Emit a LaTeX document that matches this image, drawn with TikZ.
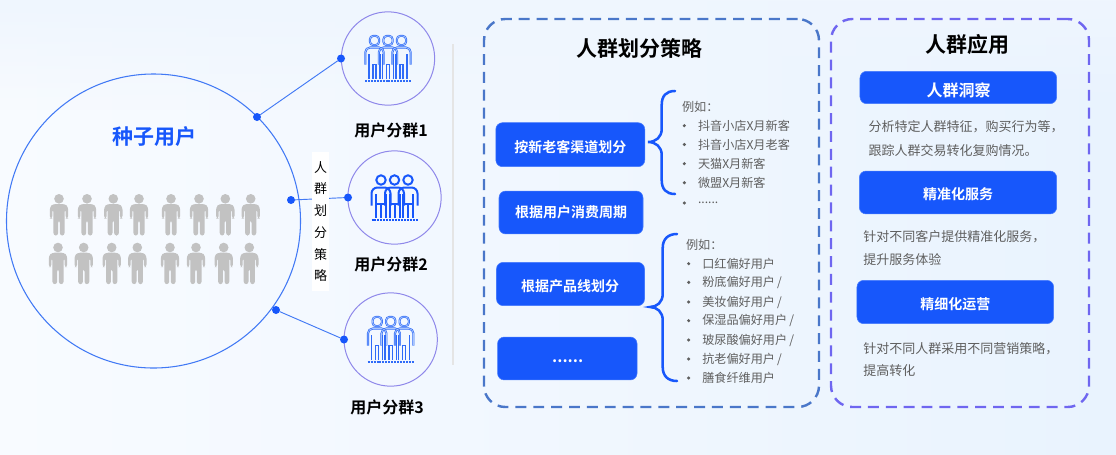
\documentclass[tikz,border=0pt]{standalone}
\usepackage{fontspec}
\usetikzlibrary{fadings}
\setmainfont{Noto Sans CJK SC}[BoldFont={Noto Sans CJK SC Bold}]
\definecolor{bgl}{HTML}{F8FBFF}
\definecolor{bgr}{HTML}{E9F3FE}
\definecolor{bgtop}{HTML}{EFF6FE}
\definecolor{brand}{HTML}{1757FB}
\definecolor{ring}{HTML}{4179F5}
\definecolor{ringb}{HTML}{8F88EA}
\definecolor{dashA}{HTML}{4A77C9}
\definecolor{dashB}{HTML}{6F66F0}
\definecolor{manc}{HTML}{C2C2C2}
\definecolor{txt}{HTML}{5F5F5F}
\definecolor{iconc}{HTML}{2F6BF8}
\definecolor{iconl}{HTML}{A9C6FC}
\newcommand{\fsz}[1]{\fontsize{#1}{#1}\selectfont}
\newcommand{\sixdots}{......}
\newcommand{\slmark}{\,/}
\tikzset{
  every node/.style={inner sep=0pt,outer sep=0pt},
  bigring/.style={circle,draw=ring,line width=0.8pt,minimum size=220.5pt},
  smallring/.style={circle,draw=ringb,line width=0.75pt,minimum size=70pt},
  jdot/.style={circle,fill=brand,minimum size=6pt},
  link/.style={draw=ring,line width=0.7pt},
  panelA/.style={draw=dashA,line width=1.8pt,rounded corners=16pt,dash pattern=on 8.2pt off 5.2pt},
  panelB/.style={draw=dashB,line width=1.8pt,rounded corners=16pt,dash pattern=on 8.2pt off 5.2pt},
  bluebox/.style={fill=brand,draw=brand!80!white,line width=0.4pt,rounded corners=5pt},
  boxlabel/.style={text=white,font=\bfseries\fsz{10.5}},
  title/.style={font=\bfseries\fsz{15.75},text=black},
  grouplabel/.style={font=\bfseries\fsz{12},text=black},
  desc/.style={anchor=west,font=\fsz{9.75},text=txt},
  listitem/.style={anchor=west,font=\fsz{9.1},text=txt},
  bulletdot/.style={circle,fill=txt,minimum size=2.6pt},
  bracepath/.style={draw=brand,line width=1.9pt,line cap=round},
  grayman/.pic={
    \fill[manc] (0,4.8) circle (4.8);
    \fill[manc,rounded corners=2pt] (-9.2,24.5) -- (-9.2,13) -- (-6,10) -- (6,10) -- (9.2,13) -- (9.2,24.5) -- (6.6,24.5) -- (6.6,15) -- (5.6,15) -- (5.6,41.5) -- (0.8,41.5) -- (0.8,26) -- (-0.8,26) -- (-0.8,41.5) -- (-5.6,41.5) -- (-5.6,15) -- (-6.6,15) -- (-6.6,24.5) -- cycle;
  },
  onefigure/.pic={
    \draw[draw=iconc,double=iconl,double distance=0.55pt,line width=0.5pt,rounded corners=2.6pt] (-4.6,-22.6) rectangle (4.6,-13.4);
    \draw[draw=iconc,double=iconl,double distance=0.55pt,line width=0.5pt,rounded corners=3.6pt] (-9.2,6) -- (-9.2,-11) -- (9.2,-11) -- (9.2,6);
    \draw (-5.6,20.5) -- (-5.6,-5);
    \draw (5.6,20.5) -- (5.6,-5);
    \draw (-1.6,20.5) -- (-1.6,6) -- (1.6,6) -- (1.6,20.5);
  },
  trioA/.pic={
    \begin{scope}[draw=iconc,line width=1pt]
      \pic at (-13.5,0) {onefigure};
      \pic at (0,0) {onefigure};
      \pic at (13.5,0) {onefigure};
    \end{scope}
    \draw[iconc,line width=1.7pt,dash pattern=on 1.5pt off 0.7pt] (-23,22.5) -- (23,22.5);
  },
  onebold/.pic={
    \draw (0,-17.5) circle (4.7);
    \draw[rounded corners=4.5pt] (-9.5,8) -- (-9.5,-10) -- (9.5,-10) -- (9.5,8);
    \draw (-5,20) -- (-5,-4);
    \draw (5,20) -- (5,-4);
    \draw (0,20) -- (0,6.5);
    \draw (-4,6.5) -- (4,6.5);
  },
  trioB/.pic={
    \begin{scope}[draw=brand,line width=1.5pt]
      \pic at (-13.5,0) {onebold};
      \pic at (0,0) {onebold};
      \pic at (13.5,0) {onebold};
    \end{scope}
    \draw[brand,line width=1.7pt,dash pattern=on 1.5pt off 0.7pt] (-23,22.5) -- (23,22.5);
  },
}
\begin{document}
\begin{tikzpicture}[x=0.75pt,y=-0.75pt]
\path[use as bounding box] (0,0) rectangle (1116,454);
\shade[left color=bgl,right color=bgr] (0,0) rectangle (1116,454);
\fill[bgtop,path fading=south] (0,0) rectangle (1116,110);

% left group
\node[bigring] (seed) at (153.5,221) {};
\node[title,text=brand] (seedt) at (154,137) {种子用户};
\foreach \x in {59,87,113.3,139,171,199,225.3,250.7} \pic at (\x,194) {grayman};
\foreach \x in {58,83.7,111.7,137.3,170,196,223.7,249.3} \pic at (\x,242.7) {grayman};

\node[smallring] (g1) at (388,58.5) {};
\node[smallring] (g2) at (394.5,197.5) {};
\node[smallring] (g3) at (390.7,339.5) {};
\pic at (g1.center) {trioA};
\pic at (g2.center) {trioB};
\pic at (g3.center) {trioA};
\node[grouplabel] (l1) at (391,130) {用户分群1};
\node[grouplabel] (l2) at (391,264) {用户分群2};
\node[grouplabel] (l3) at (387,407.6) {用户分群3};

\node[jdot] (a1) at (257,117) {};
\node[jdot] (b1) at (341,58.5) {};
\node[jdot] (a2) at (291,200) {};
\node[jdot] (b2) at (348,197.5) {};
\node[jdot] (a3) at (276,310) {};
\node[jdot] (b3) at (344,339.5) {};
\draw[link] (a1) -- (b1);
\draw[link] (a2) -- (b2);
\draw[link] (a3) -- (b3);

\node[fill=white,minimum width=12.75pt,minimum height=104pt,align=center,font=\fontsize{9.75}{16.3}\selectfont,text=black] (vlabel) at (320.5,221.5)
  {人\\群\\划\\分\\策\\略};

\coordinate (sepT) at (453,44);
\coordinate (sepB) at (453,365);
\draw[black!10,line width=1.2pt] (sepT) -- (sepB);

% middle panel
\node[panelA,minimum width=251.25pt,minimum height=291pt] (midp) at (651.5,213) {};
\node[title] (midt) at (639,48.7) {人群划分策略};
\node[bluebox,minimum width=111.7pt,minimum height=33pt] (m1) at (570.3,144.7) {};
\node[bluebox,minimum width=108pt,minimum height=32.2pt] (m2) at (571,212.5) {};
\node[bluebox,minimum width=111pt,minimum height=32.5pt] (m3) at (570.5,284) {};
\node[bluebox,minimum width=104.6pt,minimum height=32.2pt] (m4) at (567.3,358.5) {};
\node[boxlabel] (mt1) at (570.3,146.7) {按新老客渠道划分};
\node[boxlabel] (mt2) at (571,212.5) {根据用户消费周期};
\node[boxlabel] (mt3) at (570,286) {根据产品线划分};
\node[boxlabel,font=\bfseries\fsz{12}] (mt4) at (567.7,361.5) {\sixdots};

\coordinate (bt1) at (675,91);
\coordinate (bm1) at (648,142);
\coordinate (bb1) at (675,194);
\draw[bracepath] (bt1) .. controls (666,91) and (661.7,96) .. (661.7,105) -- (661.7,129) .. controls (661.7,137) and (656,142) .. (bm1) .. controls (656,142) and (661.7,147) .. (661.7,155) -- (661.7,180) .. controls (661.7,189) and (666,194) .. (bb1);
\coordinate (bt2) at (677,234);
\coordinate (bm2) at (650,307);
\coordinate (bb2) at (677,381);
\draw[bracepath] (bt2) .. controls (668,234) and (662.7,239) .. (662.7,248) -- (662.7,294) .. controls (662.7,302) and (657,307) .. (bm2) .. controls (657,307) and (662.7,312) .. (662.7,320) -- (662.7,367) .. controls (662.7,376) and (668,381) .. (bb2);

\node[listitem] (ex1) at (682,106.7) {例如：};
\foreach \y/\t/\n in {125.7/抖音小店X月新客/a,144.5/抖音小店X月老客/b,163.7/天猫X月新客/c,182.7/微盟X月新客/d,203/\sixdots/e}{
  \node[bulletdot] (p\n) at (684.3,\y) {};
  \node[listitem] (q\n) at (698,\y) {\t};
}
\node[listitem] (ex2) at (686,245) {例如：};
\foreach \y/\t/\n in {263.7/口红偏好用户/a,282.3/粉底偏好用户\slmark/b,302/美妆偏好用户\slmark/c,320.7/保湿品偏好用户\slmark/d,340/玻尿酸偏好用户\slmark/e,359/抗老偏好用户\slmark/f,378/膳食纤维用户/g}{
  \node[bulletdot] (r\n) at (688.7,\y) {};
  \node[listitem] (s\n) at (702.3,\y) {\t};
}

% right panel
\node[panelB,minimum width=193.5pt,minimum height=291pt] (rightp) at (960,213) {};
\node[title] (rightt) at (967.7,44) {人群应用};
\node[bluebox,minimum width=147.5pt,minimum height=24.3pt] (r1) at (958.3,87.5) {};
\node[bluebox,minimum width=148pt,minimum height=32.2pt] (r2) at (958,192.5) {};
\node[bluebox,minimum width=147.5pt,minimum height=32.5pt] (r3) at (955.3,302) {};
\node[boxlabel,font=\bfseries\fsz{12}] (rt1) at (958.7,90) {人群洞察};
\node[boxlabel] (rt2) at (958,193.7) {精准化服务};
\node[boxlabel] (rt3) at (955.3,304) {精细化运营};
\node[desc] (d1) at (868.7,127) {分析特定人群特征，购买行为等，};
\node[desc] (d2) at (868.7,150.5) {跟踪人群交易转化复购情况。};
\node[desc] (d3) at (863.3,236.7) {针对不同客户提供精准化服务，};
\node[desc] (d4) at (863.3,259.3) {提升服务体验};
\node[desc] (d5) at (863.3,348.3) {针对不同人群采用不同营销策略，};
\node[desc] (d6) at (863.3,370.7) {提高转化};
\end{tikzpicture}
\end{document}
